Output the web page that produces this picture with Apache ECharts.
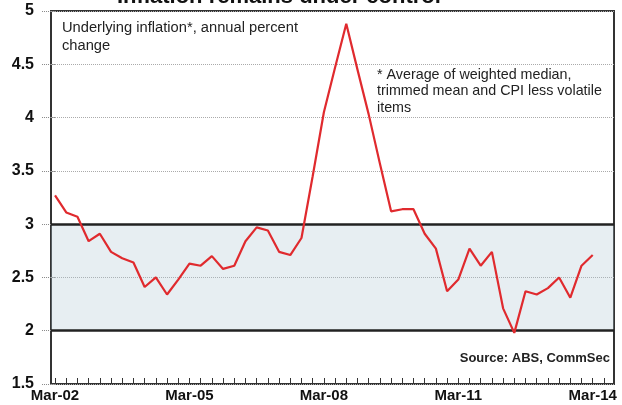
<!DOCTYPE html>
<html><head><meta charset="utf-8">
<script src="https://cdn.jsdelivr.net/npm/echarts@6/dist/echarts.min.js"></script>
<style>html,body{margin:0;padding:0;background:#fff}#c{width:622px;height:405px}</style>
</head><body><div id="c"></div>
<script>
const quarters = ['Mar-02','Jun-02','Sep-02','Dec-02','Mar-03','Jun-03','Sep-03','Dec-03',
  'Mar-04','Jun-04','Sep-04','Dec-04','Mar-05','Jun-05','Sep-05','Dec-05',
  'Mar-06','Jun-06','Sep-06','Dec-06','Mar-07','Jun-07','Sep-07','Dec-07',
  'Mar-08','Jun-08','Sep-08','Dec-08','Mar-09','Jun-09','Sep-09','Dec-09',
  'Mar-10','Jun-10','Sep-10','Dec-10','Mar-11','Jun-11','Sep-11','Dec-11',
  'Mar-12','Jun-12','Sep-12','Dec-12','Mar-13','Jun-13','Sep-13','Dec-13','Mar-14'];
const inflation = [3.27,3.11,3.07,2.84,2.91,2.74,2.68,2.64,2.41,2.50,2.34,2.48,2.63,2.61,2.70,2.58,
  2.61,2.84,2.97,2.94,2.74,2.71,2.87,3.45,4.05,4.47,4.88,4.45,4.03,3.57,3.12,3.14,
  3.14,2.91,2.77,2.37,2.48,2.77,2.61,2.74,2.21,1.98,2.37,2.34,2.40,2.50,2.31,2.61,2.71];
const xTickLabels = ['Mar-02','Mar-05','Mar-08','Mar-11','Mar-14'];
const yTicks = [1.5,2,2.5,3,3.5,4,4.5,5];
const targetBand = [2,3];

const chart = echarts.init(document.getElementById('c'), null, {renderer:'canvas'});
const labelIdx = xTickLabels.map(l => quarters.indexOf(l));
const tickIdx = quarters.map((q,i)=>i).concat([quarters.length]);
chart.setOption({
  animation:false,
  backgroundColor:'#fff',
  grid:{left:51, top:11, right:8, bottom:21, show:true, borderColor:'#333', borderWidth:2, backgroundColor:'transparent'},
  xAxis:{
    type:'value', min:-0.36, max:49.9,
    axisLine:{show:false},
    splitLine:{show:false},
    axisTick:{show:true, inside:true, length:6, customValues:tickIdx, lineStyle:{color:'#333', width:1}},
    axisLabel:{customValues:labelIdx, formatter:v=>quarters[Math.round(v)]||'', color:'#111',
      fontFamily:'Liberation Sans, Arial, sans-serif', fontWeight:'bold', fontSize:15, margin:4}
  },
  yAxis:{
    type:'value', min:yTicks[0], max:yTicks[yTicks.length-1], interval:0.5,
    axisLine:{show:false},
    axisTick:{show:true, length:13, lineStyle:{color:'#888', type:'dotted', width:1}},
    splitLine:{show:true, lineStyle:{color:'#aaa', type:'dotted', width:1}},
    axisLabel:{color:'#111', fontFamily:'Liberation Sans, Arial, sans-serif', fontWeight:'bold', fontSize:16, margin:17}
  },
  series:[{
    type:'line',
    data:inflation.map((v,i)=>[i,v]),
    symbol:'none',
    lineStyle:{color:'#e02a2e', width:2.2},
    z:5,
    markArea:{silent:true, itemStyle:{color:'rgba(175,200,212,0.3)'},
      data:[[{yAxis:targetBand[0]},{yAxis:targetBand[1]}]]},
    markLine:{silent:true, symbol:'none', label:{show:false},
      lineStyle:{color:'#222', type:'solid', width:2.5},
      data:targetBand.map(v=>({yAxis:v}))}
  }],
  graphic:[
    {type:'text', left:117, top:-14, style:{text:'Inflation remains under control', fill:'#111',
      font:'bold 22px "Liberation Sans", Arial, sans-serif'}},
    {type:'text', left:62, top:19, style:{text:'Underlying inflation*, annual percent\nchange', fill:'#222',
      font:'14.7px "Liberation Sans", Arial, sans-serif', lineHeight:18}},
    {type:'text', left:377, top:66.5, style:{text:'* Average of weighted median,\ntrimmed mean and CPI less volatile\nitems', fill:'#222',
      font:'14.3px "Liberation Sans", Arial, sans-serif', lineHeight:16.5}},
    {type:'text', right:12, top:352, style:{text:'Source: ABS, CommSec', fill:'#222', align:'right',
      font:'bold 13px "Liberation Sans", Arial, sans-serif'}}
  ]
});
</script></body></html>
